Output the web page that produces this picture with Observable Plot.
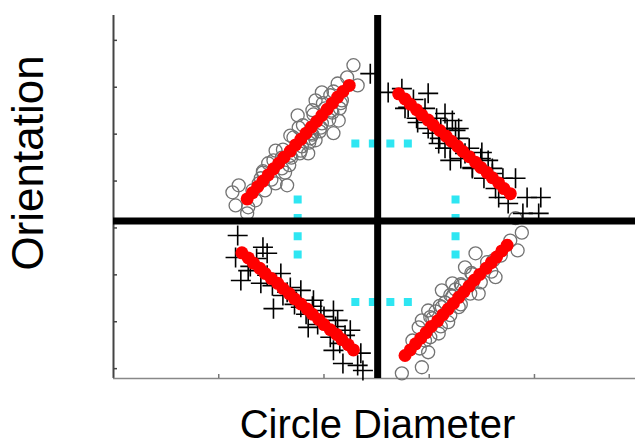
<!DOCTYPE html>
<html><head><meta charset="utf-8">
<script src="https://cdn.jsdelivr.net/npm/d3@7"></script>
<script src="https://cdn.jsdelivr.net/npm/@observablehq/plot@0.6"></script>
<style>body{margin:0;background:#fff}</style>
</head><body><div id="chart"></div>
<script>
// Axis ticks (unlabelled)
const xTicks = [1, 2, 3, 4];
const yTicks = [-3.15, -2.15, -1.15, -0.15, 0.85, 1.85, 2.85, 3.85];
const xDomain = [0, 4.96];
const yDomain = [-3.36, 4.38];

// Gray open circles (upper-left and lower-right clusters)
const circleX = [2.28,2.22,2.32,2.13,1.98,2.06,1.92,2.16,2.01,1.75,2.14,1.89,2.09,1.76,1.68,1.92,1.85,1.54,1.60,1.47,1.63,1.42,1.38,1.54,1.65,1.19,1.13,1.16,1.28,1.27,1.35,1.44,1.32,1.40,1.50,1.42,1.60,1.52,1.69,1.61,1.79,1.71,1.89,1.80,1.98,1.90,2.08,1.99,2.17,2.09,1.78,1.87,1.97,
  1.67,1.77,1.86,1.96,2.05,2.15,1.68,1.88,2.07,
  3.88,3.77,3.84,3.68,3.55,3.44,3.63,3.34,3.41,3.47,3.22,3.12,3.28,3.15,2.99,2.93,3.18,3.09,2.90,2.96,2.99,2.84,2.93,2.74,3.82,2.91,3.01,3.03,3.11,3.12,3.20,3.22,3.30,3.31,3.39,3.41,3.49,3.59,3.61,
  3.01,3.10,3.20,3.30,3.40,3.06,3.25];
const circleY = [3.32,3.06,2.89,2.93,2.74,2.68,2.57,2.51,2.40,2.25,2.14,2.36,1.87,1.99,1.82,1.72,1.44,1.50,1.35,1.23,1.03,1.03,0.80,0.80,0.76,0.76,0.61,0.33,0.29,0.16,0.44,0.65,0.65,0.91,0.88,1.06,1.12,1.29,1.35,1.52,1.59,1.78,1.84,2.04,2.08,2.27,2.31,2.51,2.57,2.76,1.50,1.76,1.99,
  1.19,1.44,1.67,1.91,2.16,2.40,1.39,1.87,2.35,
  -0.25,-0.42,-0.63,-0.74,-0.88,-0.69,-1.20,-0.99,-1.33,-1.55,-1.33,-1.48,-1.84,-1.74,-1.91,-2.12,-2.16,-2.40,-2.27,-2.55,-2.80,-2.55,-3.12,-3.25,0.06,-2.72,-2.48,-2.08,-2.25,-1.84,-2.01,-1.61,-1.78,-1.38,-1.55,-1.14,-1.31,-1.08,-0.84,
  -2.05,-1.81,-1.58,-1.35,-1.11,-1.93,-1.46];

// Black plus markers (upper-right and lower-left clusters)
const plusX = [2.44,2.61,2.74,2.99,2.80,3.15,2.89,3.22,3.28,3.03,3.09,3.15,3.20,3.34,3.50,3.56,3.41,3.60,3.82,3.66,3.75,3.93,4.06,4.04,3.89,3.25,3.11,2.77,2.85,2.88,2.96,2.99,3.07,3.17,3.10,3.20,3.28,3.30,3.38,3.49,3.41,3.52,3.60,3.63,3.70,
  1.18,1.16,1.42,1.46,1.21,1.28,1.40,1.59,1.65,1.52,1.78,1.78,1.90,1.85,1.97,2.09,2.13,2.06,2.25,2.09,2.35,2.18,2.32,2.37,1.30,1.36,1.46,1.51,1.61,1.68,1.72,1.83,1.89,1.94,2.00,2.11,2.15,2.20];
const plusY = [3.14,2.74,2.82,2.72,2.42,2.29,2.10,2.14,1.97,1.87,1.65,1.55,1.29,1.44,1.46,1.29,1.14,1.01,0.91,0.50,0.37,0.50,0.50,0.16,0.16,1.93,1.97,2.40,2.59,2.19,2.40,1.97,2.19,1.97,1.76,1.55,1.76,1.33,1.55,1.33,1.12,0.91,1.12,0.69,0.91,
  -0.31,-0.78,-0.56,-0.69,-1.27,-1.06,-1.33,-1.12,-1.52,-1.87,-1.48,-1.84,-1.69,-2.27,-1.91,-1.91,-2.12,-2.48,-2.33,-2.76,-2.82,-3.04,-3.08,-3.19,-0.97,-0.80,-1.16,-1.38,-1.59,-1.42,-1.78,-1.99,-1.82,-2.21,-2.04,-2.25,-2.61,-2.44];

// Red fitted points (four branches)
const fitX = [1.27,1.32,1.37,1.42,1.47,1.52,1.57,1.62,1.68,1.73,1.78,1.83,1.88,1.93,1.98,2.03,2.08,2.13,2.18,2.24,
  2.71,2.77,2.82,2.88,2.93,2.99,3.04,3.10,3.16,3.21,3.27,3.32,3.38,3.44,3.49,3.55,3.60,3.66,3.71,3.77,
  1.22,1.28,1.33,1.39,1.44,1.50,1.56,1.61,1.67,1.72,1.78,1.84,1.89,1.95,2.00,2.06,2.12,2.17,2.23,2.28,
  2.77,2.82,2.87,2.92,2.97,3.02,3.08,3.13,3.18,3.23,3.28,3.33,3.38,3.43,3.48,3.54,3.59,3.64,3.69,3.74];
const fitY = [0.47,0.60,0.73,0.85,0.98,1.11,1.23,1.36,1.49,1.62,1.74,1.87,2.00,2.12,2.25,2.38,2.51,2.64,2.76,2.89,
  2.71,2.60,2.49,2.37,2.26,2.15,2.04,1.93,1.81,1.70,1.59,1.48,1.37,1.25,1.14,1.03,0.92,0.81,0.69,0.58,
  -0.68,-0.79,-0.90,-1.01,-1.12,-1.23,-1.33,-1.44,-1.55,-1.66,-1.77,-1.88,-1.99,-2.10,-2.21,-2.32,-2.42,-2.53,-2.64,-2.75,
  -2.87,-2.75,-2.62,-2.50,-2.38,-2.25,-2.13,-2.00,-1.88,-1.76,-1.63,-1.51,-1.39,-1.26,-1.14,-1.01,-0.89,-0.77,-0.64,-0.52];

// Cyan dotted box
const cyanHx = [2.26, 2.84];   // horizontal sides: x extent
const cyanHy = [1.65, -1.73];  // horizontal sides: y
const cyanVy = [0.54, -0.80];  // vertical sides: y extent
const cyanVx = [1.75, 3.25];   // vertical sides: x

// Centre cross
const centerX = [2.51];
const centerY = [0];

const circles = circleX.map((x, i) => ({x, y: circleY[i]}));
const pluses = plusX.map((x, i) => ({x, y: plusY[i]}));
const fit = fitX.map((x, i) => ({x, y: fitY[i]}));
const hSegs = cyanHy.map(y => ({x1: cyanHx[0], x2: cyanHx[1], y}));
const vSegs = cyanVx.map(x => ({x, y1: cyanVy[0], y2: cyanVy[1]}));

const font = "'Liberation Sans', Arial, Helvetica, sans-serif";

const chart = Plot.plot({
  width: 635, height: 446,
  marginLeft: 113, marginRight: 0, marginTop: 15, marginBottom: 68,
  x: {domain: xDomain, axis: null},
  y: {domain: yDomain, axis: null},
  style: {background: "white", fontFamily: font},
  marks: [
    Plot.ruleX([xDomain[0]], {stroke: "#444", strokeWidth: 2}),
    Plot.ruleY([yDomain[0]], {stroke: "#888", strokeWidth: 1.5}),
    Plot.ruleY(yTicks, {insetRight: 518, stroke: "#444", strokeWidth: 1.5}),
    Plot.ruleX(xTicks, {insetTop: 359, stroke: "#777", strokeWidth: 1.5}),
    Plot.dot(circles, {x: "x", y: "y", r: 6.5, stroke: "#737373", strokeWidth: 1.3, fill: "none"}),
    Plot.dot(pluses, {x: "x", y: "y", symbol: "plus", r: 6.5, stroke: "black", strokeWidth: 1.6}),
    Plot.dot(fit, {x: "x", y: "y", r: 6.5, fill: "#ff0000", stroke: "none"}),
    Plot.link(hSegs, {x1: "x1", x2: "x2", y1: "y", y2: "y", stroke: "#2ee6f2", strokeWidth: 8, strokeDasharray: "8,9.5"}),
    Plot.link(vSegs, {x1: "x", x2: "x", y1: "y1", y2: "y2", stroke: "#2ee6f2", strokeWidth: 8, strokeDasharray: "8,10.3"}),
    Plot.ruleX(centerX, {stroke: "black", strokeWidth: 7}),
    Plot.ruleY(centerY, {stroke: "black", strokeWidth: 7}),
    Plot.text(["Circle Diameter"], {text: d => d, frameAnchor: "bottom", textAnchor: "middle", lineAnchor: "bottom", dx: 3, dy: 59, fontSize: 40, fill: "black", fontFamily: font}),
    Plot.text(["Orientation"], {text: d => d, frameAnchor: "left", textAnchor: "middle", lineAnchor: "bottom", rotate: -90, dx: -70.3, dy: -34, fontSize: 44, fill: "black", fontFamily: font})
  ]
});
document.getElementById("chart").appendChild(chart);
</script>
</body></html>
